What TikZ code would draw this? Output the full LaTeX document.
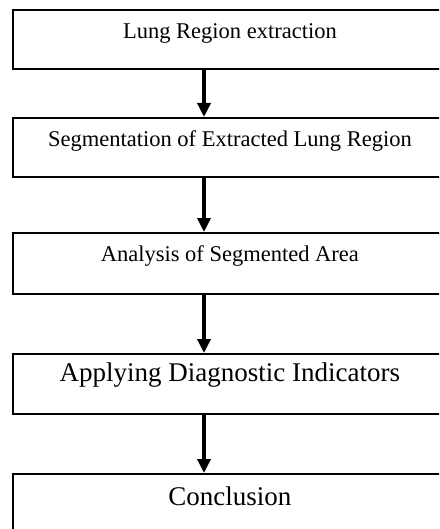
\documentclass[tikz,border=0pt]{standalone}
\usepackage{fontspec}
\setmainfont{Liberation Serif}
\usetikzlibrary{arrows.meta}
\newcommand{\w}{434}

\begin{document}
\begin{tikzpicture}[x=1pt, y=-1pt,
    rect/.style={draw, line width=1.8pt, rectangle, anchor=north west, minimum width=\w pt, inner sep=0pt, text height=29pt, font=\fontsize{22.5}{27}\selectfont},
    rectbig/.style={rect, font=\fontsize{27}{32}\selectfont},
    flow/.style={line width=3.4pt, -{Triangle[width=13pt,length=14pt]}}]
    \clip (0,0) rectangle (439,529);
    % Steps
    \node[rect, text depth=30pt] (rect-1) at (12,9) {Lung Region extraction};
    \node[rect, text depth=30pt] (rect-2) at (12,117) {Segmentation of Extracted Lung Region};
    \node[rect, text depth=32pt] (rect-3) at (12,232) {Analysis of Segmented Area};
    \node[rectbig, text height=28pt, text depth=32pt] (rect-4) at (12,353) {Applying Diagnostic Indicators};
    \node[rectbig, text height=32pt, text depth=60pt] (rect-5) at (12,473) {Conclusion};

    % Arrows
    \draw[flow] ([xshift=192pt]rect-1.south west) -- ([xshift=192pt]rect-2.north west);
    \draw[flow] ([xshift=192pt]rect-2.south west) -- ([xshift=192pt]rect-3.north west);
    \draw[flow] ([xshift=192pt]rect-3.south west) -- ([xshift=192pt]rect-4.north west);
    \draw[flow] ([xshift=192pt]rect-4.south west) -- ([xshift=192pt]rect-5.north west);
\end{tikzpicture}
\end{document}
